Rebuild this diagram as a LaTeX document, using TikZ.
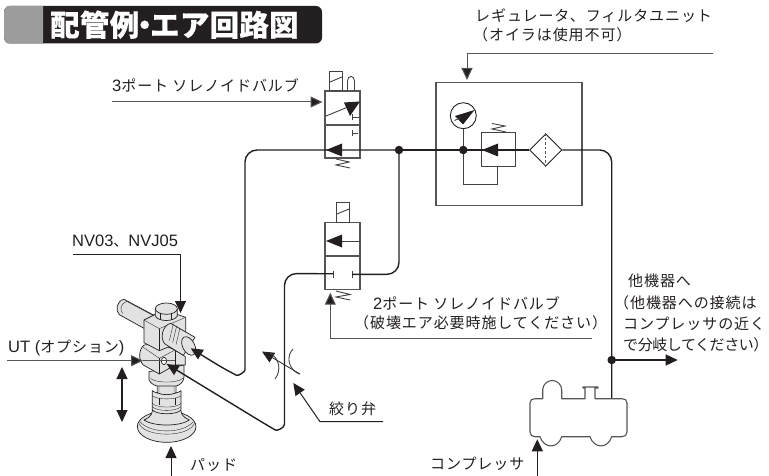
\documentclass[tikz,border=0pt]{standalone}
\usepackage{fontspec}
\usetikzlibrary{arrows.meta,shapes.geometric}
\setmainfont{Liberation Sans}
\newfontfamily\cjk{Noto Sans CJK JP}[Scale=0.91,LetterSpace=6]
\newfontfamily\cjkt{Noto Sans CJK JP}
\definecolor{ink}{HTML}{231F20}
\definecolor{lead}{HTML}{555555}
\definecolor{body}{HTML}{E2E2E2}
\tikzset{
 lbl/.style={anchor=base west,inner sep=0pt,text=ink,font=\fontsize{16.5}{18}\selectfont},
 pipe/.style={draw=ink,line width=1.4pt,rounded corners=12pt},
 leadg/.style={draw=lead,line width=1pt,-{Triangle[length=12pt,width=11pt,fill=ink]}},
 leadk/.style={draw=ink,line width=1pt,-{Triangle[length=12pt,width=11pt,fill=ink]}},
 pipearrow/.style={pipe,-{Triangle[length=12pt,width=11pt,fill=ink]}},
 sym/.style={draw=ink!85,line width=.9pt},
 box/.style={draw=lead,line width=1.1pt},
 headf/.style={fill=ink,draw=none},
 dot/.style={circle,fill=ink,inner sep=0pt,minimum size=8.5pt},
 part/.style={draw=ink,line width=.7pt,fill=body,line join=round},
 fine/.style={draw=ink,line width=.35pt},
}
\begin{document}
\begin{tikzpicture}[x=1pt,y=-1pt]
\useasboundingbox (0,0) rectangle (769,476);
% Title
\fill[ink,rounded corners=6pt] (4,6) rectangle (322,43.5);
\fill[fill=gray!70!black!60,rounded corners=6pt] (43,6) [sharp corners] -- (10,6) [rounded corners=6pt] -- (4,6) -- (4,43.5) -- (10,43.5) [sharp corners] -- (43,43.5) -- cycle;
\node[anchor=base west,inner sep=0pt,text=white] (title) at (50,36) {\fontsize{29.5}{32}\cjkt\bfseries\addfontfeature{LetterSpace=0.8,FakeBold=0.4}配管例\hbox to 11pt{\hss・\hss}エア回路図};
% Labels
\node[lbl] (t3p) at (112,92) {3{\cjk ポート ソレノイドバルブ}};
\node[lbl] (treg) at (475,22) {\cjk レギュレータ、フィルタユニット};
\node[lbl] (toil) at (473,41) {\cjk （オイラは使用不可）};
\node[lbl] (tnv) at (72,246) {NV03{\cjk 、}NVJ05};
\node[lbl] (tut) at (8,352) {UT ({\cjk オプション})};
\node[lbl] (t2p) at (373,309) {2{\cjk ポート ソレノイドバルブ}};
\node[lbl] (thak) at (354,328) {\cjk （破壊エア必要時施してください）};
\node[lbl] (tsib) at (329,414) {\cjk 絞り弁};
\node[lbl] (tpad) at (190,470) {\cjk パッド};
\node[lbl] (tcom) at (430,469) {\cjk コンプレッサ};
\node[lbl] (toth) at (628,286) {\cjk 他機器へ};
\node[lbl] (ta) at (614,308) {\cjk （他機器への接続は};
\node[lbl] (tb) at (623,329) {\cjk コンプレッサの近く};
\node[lbl] (tc) at (623,350) {\cjk\addfontfeature{LetterSpace=-3}で分岐してください）};

% Vacuum unit illustration (coordinates in 3x units)
\begin{scope}[shift={(0,230)},x=.33333pt,y=-.33333pt]
 % back cylinder
 \draw[part] (432,295) -- (358,254) .. controls (345,242) and (350,212) .. (372,208) -- (470,260) -- cycle;
 \draw[fine] (368,250) .. controls (358,240) and (362,220) .. (380,214);
 \draw[fine] (380,214) -- (462,258);
 % pad
 \draw[part] (500,590) ellipse [x radius=88,y radius=47];
 \draw[fine] (416,578) .. controls (430,624) and (570,624) .. (584,578);
 \draw[fine] (420,575) .. controls (450,612) and (550,612) .. (580,575);
 \draw[part] (458,540) .. controls (456,560) and (440,566) .. (432,570) .. controls (460,590) and (540,590) .. (568,570) .. controls (560,566) and (544,560) .. (542,540) -- cycle;
 % nut
 \draw[part] (457,482) -- (457,540) .. controls (470,555) and (530,555) .. (543,540) -- (543,482) .. controls (530,495) and (470,495) .. cycle;
 \draw[fine] (457,497) .. controls (470,510) and (530,510) .. (543,497);
 \draw[fine] (457,520) .. controls (470,535) and (530,535) .. (543,520);
 \draw[fine] (457,530) .. controls (470,545) and (530,545) .. (543,530);
 \draw[fine] (478,503) -- (478,525) (525,503) -- (525,525);
 % stem
 \draw[part] (472,400) -- (472,488) .. controls (485,496) and (515,496) .. (528,488) -- (528,400) -- cycle;
 \fill[ink!30] (473,462) rectangle (479,486) (521,462) rectangle (527,486);
 % collar
 \draw[part] (447,425) -- (447,450) .. controls (455,465) and (470,468) .. (472,468) -- (528,468) .. controls (540,466) and (552,455) .. (552,440) -- (552,405) -- cycle;
 \draw[fine] (452,445) .. controls (465,460) and (535,460) .. (548,445);
 % lower block
 \draw[part] (432,345) .. controls (415,360) and (415,390) .. (430,405) -- (478,432) -- (525,405) -- (556,405) -- (556,380) -- (525,360) -- (478,340) -- cycle;
 \draw[fine] (430,352) -- (478,385) -- (525,360);
 \draw[fine] (478,385) -- (478,432);
 \draw[fine] (525,360) -- (525,405);
 \draw[draw=ink,line width=.7pt,fill=white] (492,393) ellipse [x radius=8,y radius=11];
 % upper block
 \draw[part] (432,270) -- (492,240) -- (557,262) -- (557,330) -- (478,362) -- (432,338) -- cycle;
 \draw[fine] (432,270) -- (478,296) -- (557,262);
 \draw[fine] (478,296) -- (478,362);
 % top bolt
 \draw[part] (466,238) -- (466,258) .. controls (475,276) and (522,276) .. (532,258) -- (532,238) -- cycle;
 \draw[part] (499,236) ellipse [x radius=33,y radius=17];
 \draw[fine] (482,250) -- (482,270) (515,250) -- (515,270);
 % front cylinder
 \draw[part] (512,280) -- (585,322) -- (550,376) -- (495,342) .. controls (478,325) and (488,285) .. (512,280) -- cycle;
 \draw[fine] (520,282) -- (508,332) (530,288) -- (518,338) (540,294) -- (528,344);
 \draw[part] (566,348) ellipse [x radius=18,y radius=30,rotate=28];
\end{scope}

% Coordinates
\coordinate (jn1) at (399,150);
\coordinate (jn2) at (463.3,150);
\coordinate (jn3) at (611.7,360);

% 3-port valve
\node[box,minimum width=35pt,minimum height=67pt,inner sep=0pt] (v3) at (342.5,124.5) {};
\draw[box] (325,125) -- (360,125);
\node[sym,draw,minimum width=12.5pt,minimum height=19pt,inner sep=0pt,anchor=south] (v3s) at (336,91) {};
\draw[sym] (330,82) -- (342,77);
\draw[sym] (347.5,91) -- (347.5,81) .. controls (347.5,75) and (354.5,75) .. (354.5,81) -- (354.5,91);
\draw[sym] (326,116) -- (348,107);
\fill[headf] (360,101.5) -- (344,102.5) -- (350,116) -- cycle;
\draw[sym] (352,117.5) -- (360,117.5) (352,114.5) -- (352,120.5);
\draw[sym] (352,133.5) -- (358,133.5) (352,130.5) -- (352,136.5);
\draw[sym] (336,159) -- (349,162) -- (336,165) -- (350,168);

% 2-port valve
\node[box,minimum width=35pt,minimum height=66.5pt,inner sep=0pt] (v2) at (342.5,256) {};
\draw[box] (325,256) -- (360,256);
\node[sym,draw,minimum width=12.5pt,minimum height=19.5pt,inner sep=0pt,anchor=south] (v2s) at (343,222.7) {};
\draw[sym] (337,214) -- (349,209);
\draw[sym] (342,241) -- (360,241);
\fill[headf] (326,241) -- (342,234.5) -- (342,247.5) -- cycle;
\draw[sym] (352,271) -- (352,277.5);
\draw[sym] (333.5,271) -- (333.5,277.5);
\draw[sym] (336,291) -- (350,294.5) -- (336,297) -- (350,300);

% Regulator/filter unit
\node[box,minimum width=146pt,minimum height=123.5pt,inner sep=0pt] (reg) at (509,144) {};
\node[draw=ink,line width=.9pt,circle,minimum size=26pt,inner sep=0pt,fill=white] (gauge) at (463.3,115.7) {};
\fill[headf] (474.5,110) -- (455,116) -- (463,124.5) -- cycle;
\draw[sym] (454.5,120.5) -- (460,118);
\node[draw=ink!85,line width=1.1pt,minimum width=33.7pt,minimum height=33.5pt,inner sep=0pt] (rbox) at (498.2,149.5) {};
\draw[sym] (492,123.5) -- (505,126) -- (492,129) -- (506,132);
\node[draw=ink,line width=.9pt,diamond,aspect=1,minimum size=32.5pt,inner sep=0pt,fill=white] (filt) at (545.7,150) {};
\draw[draw=lead,line width=1pt,dash pattern=on 2.5pt off 2pt] (filt.north) -- (filt.south);
\draw[sym] (gauge.south) -- (jn2);
\draw[sym] (jn2) -- (463.3,184) -- (497.3,184) -- (497.3,166.3);

% Pipes
\draw[pipe] (jn1) -- (filt.west);
\draw[pipe] (filt.east) -- (611.7,150) -- (611.7,398);
\fill[headf] (482,150) -- (498,143.5) -- (498,156.5) -- cycle;
\coordinate (p1) at (245,150);
\coordinate (p2) at (245,358);
\coordinate (tipA) at (190.7,348.3);
\draw[pipearrow] (jn1) -- (p1) -- (p2) .. controls (245,372) and (238,376) .. (226,370) -- (tipA);
\fill[headf] (326,150) -- (342,143.5) -- (342,156.5) -- cycle;
\coordinate (p3) at (399,274.3);
\draw[pipe] (jn1) -- (p3) -- (352,274.3);
\coordinate (p4) at (284.5,273.5);
\coordinate (p5) at (284.5,412);
\coordinate (tipB) at (166.7,364);
\draw[pipearrow] (333.5,273.8) -- (p4) -- (p5) .. controls (284.5,428) and (277,431) .. (265,424) -- (tipB);
\node[dot] (d1n) at (jn1) {};
\node[dot] (d2n) at (jn2) {};
\node[dot] (d3n) at (jn3) {};
\coordinate (oth) at (677.7,360);
\draw[leadk,line width=1.4pt] (jn3) -- (oth);

% Compressor
\draw[draw=lead,line width=1.1pt,line join=round] (535,398.7) -- (542.7,398.7) -- (542.7,390) arc (180:0:9.5 and -9.5) -- (561.7,398.7) -- (585,398.7) -- (585,388) -- (583,388) -- (583,387) -- (598,387) -- (598,388) -- (595,388) -- (595,398.7) -- (622,398.7) .. controls (625,398.7) and (627,400) .. (627,403) -- (627,432) .. controls (627,435) and (625,436.7) .. (622,436.7) -- (611.7,436.7) .. controls (608,449) and (594,449) .. (590,436.7) -- (561.7,436.7) .. controls (558,449) and (544,449) .. (540,436.7) -- (535,436.7) .. controls (532,436.7) and (530,435) .. (530,432) -- (530,403) .. controls (530,400) and (532,398.7) .. cycle;
\coordinate (comp) at (537.3,439.3);
\coordinate (compb) at (537.3,476);
\draw[leadk] (compb) -- (comp);

% Leaders
\coordinate (a1) at (112,102);
\coordinate (a2) at (322.5,102);
\draw[leadg] (a1) -- (a2);
\coordinate (b1) at (713,54);
\coordinate (b2) at (467,54);
\coordinate (b3) at (467,80);
\draw[leadg] (b1) -- (b2) -- (b3);
\coordinate (c1) at (592,338.7);
\coordinate (c2) at (330.3,338.7);
\coordinate (c3) at (330.3,292.7);
\draw[leadg] (c1) -- (c2) -- (c3);
\coordinate (d1) at (73,254);
\coordinate (d2) at (180.5,254);
\coordinate (d3) at (180.5,313);
\draw[leadk] (d1) -- (d2) -- (d3);
\coordinate (e1) at (7,360.7);
\coordinate (e2) at (143,360.7);
\draw[leadg] (e1) -- (e2);
\draw[draw=lead,line width=.6pt] (e2) -- (175,360.7);
\coordinate (f1) at (122,367);
\coordinate (f2) at (122,422);
\draw[draw=ink,line width=1.2pt,{Triangle[length=12pt,width=11pt,fill=ink]}-{Triangle[length=12pt,width=11pt,fill=ink]}] (f1) -- (f2);
\coordinate (g1) at (171,476);
\coordinate (g2) at (171,446);
\draw[leadk] (g1) -- (g2);
% Throttle
\coordinate (h1) at (300,374);
\coordinate (h2) at (262,351.5);
\draw[leadk,line width=.8pt] (h1) -- (h2);
\draw[sym] (270,353) .. controls (279,358) and (282,370) .. (275,379);
\draw[sym] (293,349) .. controls (286,356) and (288,369) .. (299,374);
\coordinate (i1) at (383,421.7);
\coordinate (i2) at (320,421.7);
\coordinate (i3) at (293.3,383);
\draw[leadk] (i1) -- (i2) -- (i3);
\end{tikzpicture}
\end{document}
